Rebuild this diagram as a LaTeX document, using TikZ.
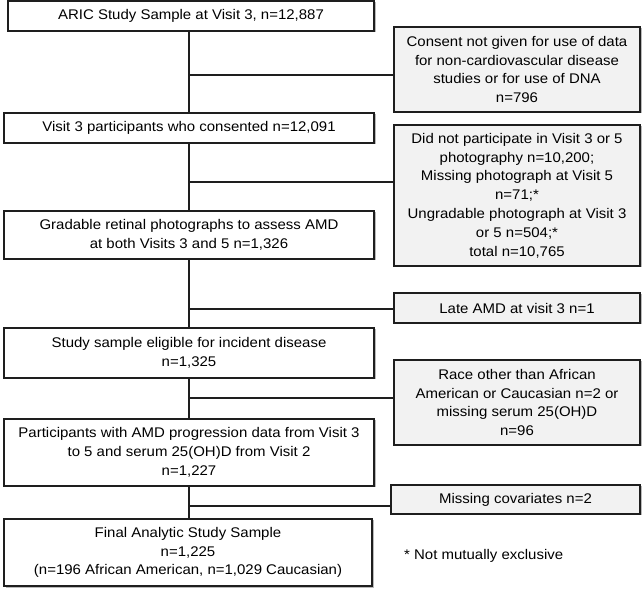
\documentclass[tikz,border=0pt]{standalone}
\usepackage{fontspec}
\setmainfont{Liberation Sans}[FakeStretch=1.07]
\usepackage{tikz}
\usetikzlibrary{positioning,shadows}

\definecolor{boxgray}{HTML}{F2F2F2}
\definecolor{linegray}{HTML}{1E1E1E}

\tikzset{
    stepnode/.style={draw=linegray, line width=1.5pt, fill=white, align=center, inner sep=0pt,
        font=\fontsize{14}{18.8}\selectfont,
        drop shadow={shadow xshift=1.5pt, shadow yshift=-1.5pt, fill=black!45, opacity=0.6}},
    exclnode/.style={stepnode, fill=boxgray, minimum width=246pt},
    flowline/.style={draw=linegray, line width=1.5pt}
}

\begin{document}
\begin{tikzpicture}[x=1pt, y=-1pt]
    \useasboundingbox (0,0) rectangle (643,593);

    % main column
    \node[stepnode, minimum width=366pt, minimum height=30pt] (aric) at (191,16) {ARIC Study Sample at Visit 3, n=12,887};
    \node[stepnode, minimum width=370pt, minimum height=30pt] (consented) at (189,128) {Visit 3 participants who consented n=12,091};
    \node[stepnode, minimum width=370pt, minimum height=48pt] (gradable) at (189,235) {Gradable retinal photographs to assess AMD\\at both Visits 3 and 5 n=1,326};
    \node[stepnode, minimum width=370pt, minimum height=50pt] (eligible) at (189,353) {Study sample eligible for incident disease\\n=1,325};
    \node[stepnode, minimum width=370pt, minimum height=67pt] (progression) at (189,452.5) {Participants with AMD progression data from Visit 3\\to 5 and serum 25(OH)D from Visit 2\\n=1,227};
    \node[stepnode, minimum width=368pt, minimum height=67pt] (final) at (188,552.5) {Final Analytic Study Sample\\n=1,225\\(n=196 African American, n=1,029 Caucasian)};

    % exclusions
    \node[exclnode, minimum height=85pt] (consent) at (517,69.5) {Consent not given for use of data\\for non-cardiovascular disease\\studies or for use of DNA\\n=796};
    \node[exclnode, minimum height=141pt] (photo) at (517,195.5) {Did not participate in Visit 3 or 5\\photography n=10,200;\\Missing photograph at Visit 5\\n=71;*\\Ungradable photograph at Visit 3\\or 5 n=504;*\\total n=10,765};
    \node[exclnode, minimum height=30pt] (late) at (517,308) {Late AMD at visit 3 n=1};
    \node[exclnode, minimum height=85pt] (race) at (517,402.5) {Race other than African\\American or Caucasian n=2 or\\missing serum 25(OH)D\\n=96};
    \node[exclnode, minimum width=249pt, minimum height=29pt] (covariates) at (515.5,499.5) {Missing covariates n=2};

    \node[anchor=west, font=\fontsize{14}{18.8}\selectfont, inner sep=0pt] (note) at (404,556) {* Not mutually exclusive};

    % junctions on the main line
    \coordinate (j1) at (189,75);
    \coordinate (j2) at (189,182);
    \coordinate (j3) at (189,309);
    \coordinate (j4) at (189,398);
    \coordinate (j5) at (189,506);

    \draw[flowline] (aric.south -| consented.south) -- (consented.north);
    \draw[flowline] (consented) -- (gradable);
    \draw[flowline] (gradable) -- (eligible);
    \draw[flowline] (eligible) -- (progression);
    \draw[flowline] (progression.south) -- (progression.south |- final.north);

    \draw[flowline] (j1) -- (j1 -| consent.west);
    \draw[flowline] (j2) -- (j2 -| photo.west);
    \draw[flowline] (j3) -- (j3 -| late.west);
    \draw[flowline] (j4) -- (j4 -| race.west);
    \draw[flowline] (j5) -- (j5 -| covariates.west);
\end{tikzpicture}
\end{document}
